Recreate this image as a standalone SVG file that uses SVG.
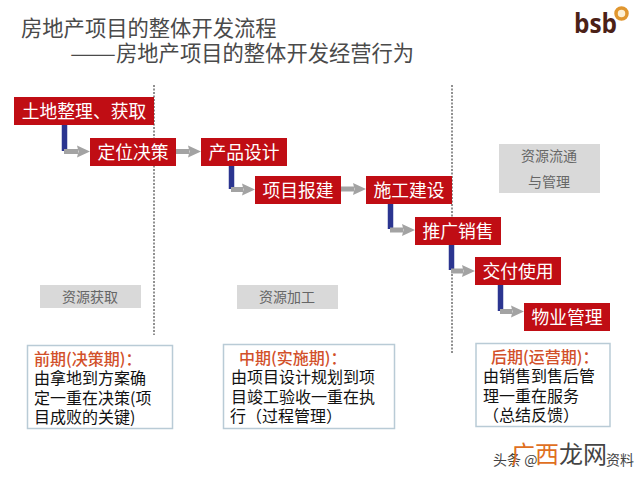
<svg xmlns="http://www.w3.org/2000/svg" width="640" height="480" viewBox="0 0 640 480">
<style>
text{font-family:"Noto Sans CJK SC","Noto Sans",sans-serif}
.title{font-size:21.3px;fill:#4a4a4a}
.step rect{fill:#c00d14}
.step text{font-size:17.8px;fill:#fff;text-anchor:middle}
.res rect{fill:#d9d9d9}
.res text{font-size:14px;fill:#666;text-anchor:middle}
.note rect{fill:#fff;stroke:#b9cbd6;stroke-width:1.5}
.note text{font-size:16px;fill:#111}
.note .h{fill:#d2502a;font-weight:500}
.blue{stroke:#2b3590;stroke-width:5.500;fill:none}
.grey{stroke:#a3a3a3;stroke-width:5;fill:none;marker-end:url(#ah)}
.div{stroke:#222;stroke-width:1;stroke-dasharray:2 1.5;fill:none}
</style>
<defs>
<marker id="ah" markerUnits="userSpaceOnUse" markerWidth="13" markerHeight="13" refX="1" refY="6.500" orient="auto">
<path d="M0 0.500L13 6.500L0 12.500L1.500 6.500Z" fill="#a3a3a3"/>
</marker>
</defs>
<rect width="640" height="480" fill="#fff"/>
<g id="title">
<text class="title" x="21" y="36">房地产项目的整体开发流程</text>
<text class="title" y="61"><tspan x="70" textLength="46" lengthAdjust="spacingAndGlyphs">——</tspan><tspan x="116">房地产项目的整体开发经营行为</tspan></text>
</g>
<g id="logo">
<text x="574" y="33" font-size="26" font-weight="700" fill="#4b2117" textLength="43" lengthAdjust="spacingAndGlyphs" style="font-family:'Open Sans',sans-serif">bsb</text>
<circle cx="621.500" cy="13.500" r="5.500" fill="#fdf0d4" stroke="#e0962f" stroke-width="3.500"/>
</g>
<g id="connectors">
<path class="div" d="M154 85V335"/>
<path class="div" d="M452 85V354"/>
<path class="blue" d="M64.500 125V151"/>
<path class="blue" d="M231.500 166V189"/>
<path class="blue" d="M390.500 204V229"/>
<path class="blue" d="M451.500 245V270"/>
<path class="blue" d="M500.500 285V311"/>
<path class="grey" d="M64 151.500H78"/>
<path class="grey" d="M176 151.500H189"/>
<path class="grey" d="M231 189.500H243"/>
<path class="grey" d="M341 189H354"/>
<path class="grey" d="M390 230H403"/>
<path class="grey" d="M451 271H463"/>
<path class="grey" d="M500 311.500H512"/>
</g>
<g id="n1" class="step"><rect x="14" y="97" width="140" height="28"/><text x="84" y="117.500">土地整理、获取</text></g>
<g id="n2" class="step"><rect x="90" y="138" width="86" height="28"/><text x="133" y="158.500">定位决策</text></g>
<g id="n3" class="step"><rect x="201" y="138" width="86" height="28"/><text x="244" y="158.500">产品设计</text></g>
<g id="n4" class="step"><rect x="255" y="176" width="86" height="28"/><text x="298" y="196.500">项目报建</text></g>
<g id="n5" class="step"><rect x="366" y="176" width="86" height="28"/><text x="409" y="196.500">施工建设</text></g>
<g id="n6" class="step"><rect x="415" y="217" width="86" height="28"/><text x="458" y="237.500">推广销售</text></g>
<g id="n7" class="step"><rect x="475" y="257" width="86" height="28"/><text x="518" y="277.500">交付使用</text></g>
<g id="n8" class="step"><rect x="524" y="303" width="86" height="28"/><text x="567" y="323.500">物业管理</text></g>
<g id="res1" class="res"><rect x="40" y="285" width="101" height="23"/><text x="90" y="301.500">资源获取</text></g>
<g id="res2" class="res"><rect x="237" y="285" width="101" height="24"/><text x="287" y="302">资源加工</text></g>
<g id="res3" class="res"><rect x="499" y="144" width="101" height="49"/><text x="549" y="161">资源流通</text><text x="549" y="187">与管理</text></g>
<g id="note1" class="note"><rect x="27.500" y="345.500" width="145" height="83"/>
<text><tspan class="h" x="34" y="365">前期(决策期)：</tspan><tspan x="34" y="384">由拿地到方案确</tspan><tspan x="34" y="403.500">定一重在决策(项</tspan><tspan x="34" y="423">目成败的关键)</tspan></text></g>
<g id="note2" class="note"><rect x="223.500" y="344.500" width="171" height="84"/>
<text><tspan class="h" x="239" y="364">中期(实施期)：</tspan><tspan x="231" y="383">由项目设计规划到项</tspan><tspan x="231" y="402.500">目竣工验收一重在执</tspan><tspan x="230" y="422">行（过程管理）</tspan></text></g>
<g id="note3" class="note"><rect x="476" y="343.500" width="134" height="83"/>
<text><tspan class="h" x="491" y="363">后期(运营期)：</tspan><tspan x="483" y="382">由销售到售后管</tspan><tspan x="483" y="401.500">理一重在服务</tspan><tspan x="483" y="421">（总结反馈）</tspan></text></g>
<g id="watermark">
<text font-size="14" fill="#444"><tspan x="493" y="465">头条 @</tspan><tspan x="511" y="463" font-size="24" fill="#e0701f">广西</tspan><tspan x="559" y="463" font-size="24">龙网</tspan><tspan x="606" y="465">资料</tspan></text>
</g>
</svg>
